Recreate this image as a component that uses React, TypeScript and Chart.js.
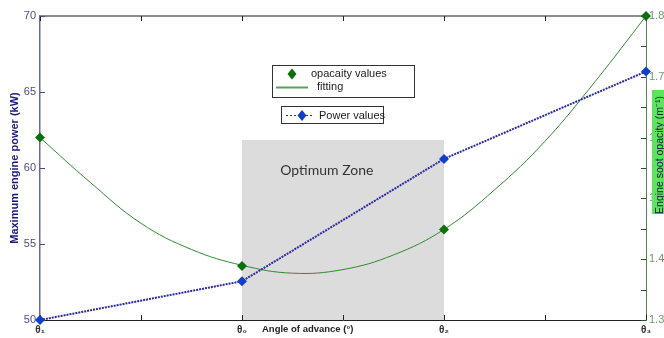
import React, { useEffect, useRef } from "react";
import { Chart, registerables } from "chart.js";

Chart.register(...registerables);

// Angle positions on the x axis and their labels
const anglePositions = [0, 2, 4, 6];
const angleLabels = ["θ₁", "θ₀", "θ₂", "θ₃"];

// Measured series
const powerValues = [50, 52.55, 60.6, 66.35];
const opacityValues = [1.6, 1.389, 1.449, 1.8];

// Fitted opacity curve, sampled every half step
const fitPositions = [0, 0.5, 1, 1.5, 2, 2.5, 3, 3.5, 4, 4.5, 5, 5.5, 6];
const fitValues = [1.6, 1.526, 1.459, 1.416, 1.39, 1.377, 1.383, 1.407, 1.449, 1.514, 1.594, 1.693, 1.8];

// Optimum zone bounds (x from θ0 to θ2, power up to the top value)
const zoneX = [2, 4];
const zoneTop = 61.84;

const FONT = "Arial, 'Liberation Sans', sans-serif";

const framePlugin = {
  id: "frame",
  beforeDatasetsDraw(chart: any) {
    const { ctx, chartArea, scales } = chart;
    const x = scales.x;
    const y = scales.y;
    const left = x.getPixelForValue(zoneX[0]);
    const right = x.getPixelForValue(zoneX[1]);
    const top = y.getPixelForValue(zoneTop);
    const bottom = y.getPixelForValue(50);
    ctx.save();
    ctx.fillStyle = "#dcdcdc";
    ctx.fillRect(left, top, right - left, bottom - top);
    ctx.fillStyle = "#333333";
    ctx.font = "14px Lato, 'Open Sans', sans-serif";
    ctx.textAlign = "center";
    ctx.textBaseline = "middle";
    ctx.fillText("Optimum Zone", left + (right - left) * 0.42, top + 30);

    // top border
    ctx.strokeStyle = "#8c8c8c";
    ctx.lineWidth = 2;
    ctx.beginPath();
    ctx.moveTo(chartArea.left, chartArea.top);
    ctx.lineTo(chartArea.right, chartArea.top);
    ctx.stroke();

    // inward tick marks
    ctx.lineWidth = 1;
    ctx.strokeStyle = "#222222";
    for (let v = 0; v <= 6; v++) {
      const px = Math.round(x.getPixelForValue(v)) + 0.5;
      ctx.beginPath();
      ctx.moveTo(px, chartArea.bottom);
      ctx.lineTo(px, chartArea.bottom - 5);
      ctx.moveTo(px, chartArea.top);
      ctx.lineTo(px, chartArea.top + 5);
      ctx.stroke();
    }
    ctx.strokeStyle = "#4b4b80";
    for (let v = 50; v <= 70; v += 5) {
      const py = Math.round(y.getPixelForValue(v)) + 0.5;
      ctx.beginPath();
      ctx.moveTo(chartArea.left, py);
      ctx.lineTo(chartArea.left + 5, py);
      ctx.stroke();
    }
    const y1 = scales.y1;
    ctx.strokeStyle = "#2f4f2f";
    for (let i = 0; i <= 10; i++) {
      const py = Math.round(y1.getPixelForValue(1.3 + i * 0.05)) + 0.5;
      ctx.beginPath();
      ctx.moveTo(chartArea.right, py);
      ctx.lineTo(chartArea.right - 5, py);
      ctx.stroke();
    }
    ctx.restore();
  },
  afterDraw(chart: any) {
    const { ctx, chartArea, scales } = chart;
    ctx.save();

    // x axis title next to θ0
    ctx.fillStyle = "#222222";
    ctx.font = `bold 9.5px ${FONT}`;
    ctx.textAlign = "left";
    ctx.textBaseline = "middle";
    ctx.fillText("Angle of advance (°)", scales.x.getPixelForValue(2) + 20, chartArea.bottom + 9);

    // right axis title box
    const bx = chartArea.right + 6;
    const by = 90;
    const bh = 124;
    ctx.fillStyle = "#5ee35e";
    ctx.fillRect(bx, by, 30, bh);
    ctx.beginPath();
    ctx.rect(bx, by, 30, bh);
    ctx.clip();
    ctx.translate(bx + 8, by + bh / 2 + 3);
    ctx.rotate(-Math.PI / 2);
    ctx.fillStyle = "#1a1a40";
    ctx.font = `10.5px ${FONT}`;
    ctx.textAlign = "center";
    ctx.textBaseline = "middle";
    ctx.fillText("Engine soot opacity (m⁻¹)", 0, 0);
    ctx.restore();
    ctx.save();

    // legend boxes
    ctx.lineWidth = 1;
    ctx.strokeStyle = "#333333";
    ctx.fillStyle = "#ffffff";
    ctx.fillRect(272.5, 65.5, 142, 32);
    ctx.strokeRect(272.5, 65.5, 142, 32);
    ctx.fillRect(281.5, 106.5, 102, 17);
    ctx.strokeRect(281.5, 106.5, 102, 17);

    const diamond = (cx: number, cy: number, color: string) => {
      ctx.fillStyle = color;
      ctx.beginPath();
      ctx.moveTo(cx, cy - 5.5);
      ctx.lineTo(cx + 4.5, cy);
      ctx.lineTo(cx, cy + 5.5);
      ctx.lineTo(cx - 4.5, cy);
      ctx.closePath();
      ctx.fill();
    };
    diamond(292, 74, "#0b6f0b");
    ctx.strokeStyle = "#5aa05a";
    ctx.lineWidth = 2;
    ctx.beginPath();
    ctx.moveTo(276, 87.5);
    ctx.lineTo(308, 87.5);
    ctx.stroke();

    ctx.strokeStyle = "#2a2aa0";
    ctx.lineWidth = 1;
    ctx.setLineDash([2, 2]);
    ctx.beginPath();
    ctx.moveTo(286, 115.5);
    ctx.lineTo(312, 115.5);
    ctx.stroke();
    ctx.setLineDash([]);
    diamond(302, 115.5, "#1040c8");

    ctx.fillStyle = "#1a1a1a";
    ctx.font = `11px ${FONT}`;
    ctx.textAlign = "left";
    ctx.textBaseline = "middle";
    ctx.fillText("opacaity values", 311, 74);
    ctx.fillText("fitting", 317, 87);
    ctx.fillText("Power values", 319, 116);
    ctx.restore();
  },
};

export default function App() {
  const ref = useRef<HTMLCanvasElement>(null);

  useEffect(() => {
    if (!ref.current) return;
    const chart = new Chart(ref.current, {
      type: "line",
      data: {
        datasets: [
          {
            label: "fitting",
            data: fitPositions.map((x, i) => ({ x, y: fitValues[i] })),
            yAxisID: "y1",
            borderColor: "#2f8a2f",
            borderWidth: 1,
            pointRadius: 0,
            tension: 0.4,
            clip: false,
            order: 3,
          },
          {
            label: "opacaity values",
            data: anglePositions.map((x, i) => ({ x, y: opacityValues[i] })),
            yAxisID: "y1",
            showLine: false,
            pointStyle: "rectRot",
            pointRadius: 5,
            pointBackgroundColor: "#0b6f0b",
            pointBorderColor: "#0b6f0b",
            pointBorderWidth: 0,
            clip: false,
            order: 1,
          },
          {
            label: "Power values",
            data: anglePositions.map((x, i) => ({ x, y: powerValues[i] })),
            yAxisID: "y",
            borderColor: "#2a2aa0",
            borderWidth: 2,
            borderDash: [2, 1],
            tension: 0,
            pointStyle: "rectRot",
            pointRadius: 5,
            pointBackgroundColor: "#1040c8",
            pointBorderColor: "#1040c8",
            pointBorderWidth: 0,
            clip: false,
            order: 2,
          },
        ],
      },
      options: {
        responsive: false,
        animation: false,
        devicePixelRatio: 1,
        layout: { padding: { top: 16, left: 0, right: 0, bottom: 0 } },
        plugins: {
          legend: { display: false },
          tooltip: { enabled: false },
        },
        scales: {
          x: {
            type: "linear",
            min: 0,
            max: 6,
            grid: { display: false, drawTicks: false },
            border: { display: true, color: "#222222", width: 1 },
            afterBuildTicks: (scale: any) => {
              scale.ticks = anglePositions.map((v) => ({ value: v }));
            },
            ticks: {
              autoSkip: false,
              maxRotation: 0,
              padding: 4,
              color: "#333333",
              font: { family: FONT, size: 10, weight: "bold" },
              callback: (v: any) => {
                const i = anglePositions.indexOf(Number(v));
                return i >= 0 ? angleLabels[i] : "";
              },
            },
            afterFit: (scale: any) => {
              scale.height = 18;
            },
          },
          y: {
            type: "linear",
            position: "left",
            min: 50,
            max: 70,
            grid: { display: false, drawTicks: false },
            border: { display: true, color: "#6a6a9a", width: 1.5 },
            ticks: {
              stepSize: 5,
              padding: 4,
              color: "#4b4b80",
              font: { family: FONT, size: 11 },
            },
            title: {
              display: true,
              text: "Maximum engine power (kW)",
              color: "#1a1a7a",
              font: { family: FONT, size: 11, weight: "bold" },
              padding: { top: 8, bottom: 0 },
            },
            afterFit: (scale: any) => {
              scale.width = 40;
            },
          },
          y1: {
            type: "linear",
            position: "right",
            min: 1.3,
            max: 1.8,
            grid: { display: false, drawTicks: false },
            border: { display: true, color: "#4c8c4c", width: 1 },
            ticks: {
              stepSize: 0.05,
              padding: 3,
              color: "#6a9a6a",
              font: { family: FONT, size: 11 },
              callback: (v: any) => {
                const n = Number(v) * 10;
                return Math.abs(n - Math.round(n)) < 1e-6 ? Number(v).toFixed(1) : "";
              },
            },
            afterFit: (scale: any) => {
              scale.width = 18;
            },
          },
        },
      },
      plugins: [framePlugin],
    } as any);
    return () => chart.destroy();
  }, []);

  return (
    <canvas
      ref={ref}
      width={664}
      height={338}
      style={{ position: "absolute", left: 0, top: 0, width: 664, height: 338 }}
    />
  );
}
